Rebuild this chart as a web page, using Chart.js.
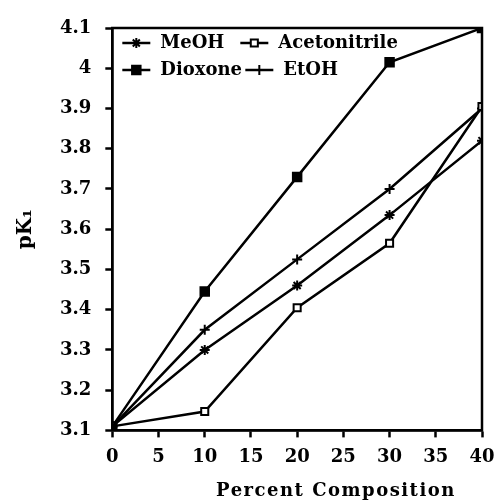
<!DOCTYPE html>
<html>
<head>
<meta charset="utf-8">
<script src="https://cdn.jsdelivr.net/npm/chart.js@4/dist/chart.umd.min.js"></script>
<style>
  html, body { margin: 0; padding: 0; background: #fff; }
  #wrap { width: 496px; height: 504px; }
</style>
</head>
<body>
<div id="wrap"><canvas id="chart" width="496" height="504"></canvas></div>
<script>
// values
const composition = [0, 10, 20, 30, 40];
const meoh = [3.11, 3.30, 3.46, 3.635, 3.82];
const acetonitrile = [3.11, 3.147, 3.405, 3.565, 3.905];
const dioxone = [3.11, 3.445, 3.73, 4.015, 4.1];
const etoh = [3.11, 3.35, 3.525, 3.70, 3.90];
const seriesNames = ['MeOH', 'Acetonitrile', 'Dioxone', 'EtOH'];
const xTitle = 'Percent Composition';
const yTitle = 'pK₁';

const FONT = '"DejaVu Serif", serif';

function pts(ys) {
    return composition.map((x, i) => ({ x: x, y: ys[i] }));
}

function makeSet(label, ys, style, fill, radius) {
    return {
        label: label,
        data: pts(ys),
        borderColor: '#000',
        borderWidth: 2.5,
        pointStyle: style,
        pointRadius: radius,
        pointBorderWidth: 2,
        pointBorderColor: '#000',
        pointBackgroundColor: fill,
        tension: 0
    };
}

// legend drawn inside the plot, two items per row, plus the box frame and x title
const insideLegend = {
    id: 'insideLegend',
    afterDatasetsDraw(chart) {
        const ctx = chart.ctx;
        const a = chart.chartArea;
        ctx.save();
        ctx.strokeStyle = '#000';
        ctx.lineWidth = 2.5;
        ctx.strokeRect(a.left, a.top, a.right - a.left, a.bottom - a.top);

        const spots = [
            { x: a.left + 10, y: a.top + 15 },
            { x: a.left + 128, y: a.top + 15 },
            { x: a.left + 10, y: a.top + 42 },
            { x: a.left + 133, y: a.top + 42 }
        ];
        ctx.font = 'bold 18px ' + FONT;
        ctx.textBaseline = 'middle';
        ctx.fillStyle = '#000';
        chart.data.datasets.forEach((ds, i) => {
            const s = spots[i];
            ctx.beginPath();
            ctx.moveTo(s.x, s.y);
            ctx.lineTo(s.x + 28, s.y);
            ctx.lineWidth = 2.5;
            ctx.stroke();
            ctx.lineWidth = ds.pointBorderWidth;
            ctx.fillStyle = ds.pointBackgroundColor;
            Chart.helpers.drawPoint(ctx, {
                pointStyle: ds.pointStyle,
                radius: ds.pointRadius,
                rotation: 0,
                borderWidth: ds.pointBorderWidth
            }, s.x + 14, s.y);
            ctx.fillStyle = '#000';
            ctx.fillText(ds.label, s.x + 38, s.y);
        });

        // x axis title, set right of centre as in the original
        ctx.font = 'bold 18px ' + FONT;
        ctx.letterSpacing = '1.5px';
        ctx.textAlign = 'center';
        ctx.fillText(xTitle, a.left + (a.right - a.left) * 0.605, 491);
        ctx.restore();
    }
};

new Chart(document.getElementById('chart'), {
    type: 'line',
    data: {
        datasets: [
            makeSet(seriesNames[0], meoh, 'star', '#000', 5),
            makeSet(seriesNames[1], acetonitrile, 'rect', '#fff', 5),
            makeSet(seriesNames[2], dioxone, 'rect', '#000', 6),
            makeSet(seriesNames[3], etoh, 'cross', '#000', 5)
        ]
    },
    options: {
        responsive: false,
        animation: false,
        layout: { padding: { top: 28, right: 14, left: 14, bottom: 27 } },
        plugins: {
            legend: { display: false },
            tooltip: { enabled: false }
        },
        scales: {
            x: {
                type: 'linear',
                min: 0,
                max: 40,
                afterFit: scale => { scale.paddingRight = 0; },
                ticks: {
                    stepSize: 5,
                    color: '#000',
                    font: { family: FONT, size: 18, weight: 'bold' },
                    padding: 9
                },
                grid: { drawOnChartArea: false, tickLength: 7, tickWidth: 2.5, color: '#000' },
                border: { color: '#000', width: 2.5 }
            },
            y: {
                min: 3.1,
                max: 4.1,
                ticks: {
                    stepSize: 0.1,
                    color: '#000',
                    font: { family: FONT, size: 18, weight: 'bold' },
                    padding: 14,
                    callback: v => String(Number(v.toFixed(1)))
                },
                grid: { drawOnChartArea: false, tickLength: 7, tickWidth: 2.5, color: '#000' },
                border: { color: '#000', width: 2.5 },
                title: {
                    display: true,
                    text: yTitle,
                    color: '#000',
                    font: { family: FONT, size: 20, weight: 'bold' },
                    padding: { top: 0, bottom: 8 }
                }
            }
        }
    },
    plugins: [insideLegend]
});
</script>
</body>
</html>
